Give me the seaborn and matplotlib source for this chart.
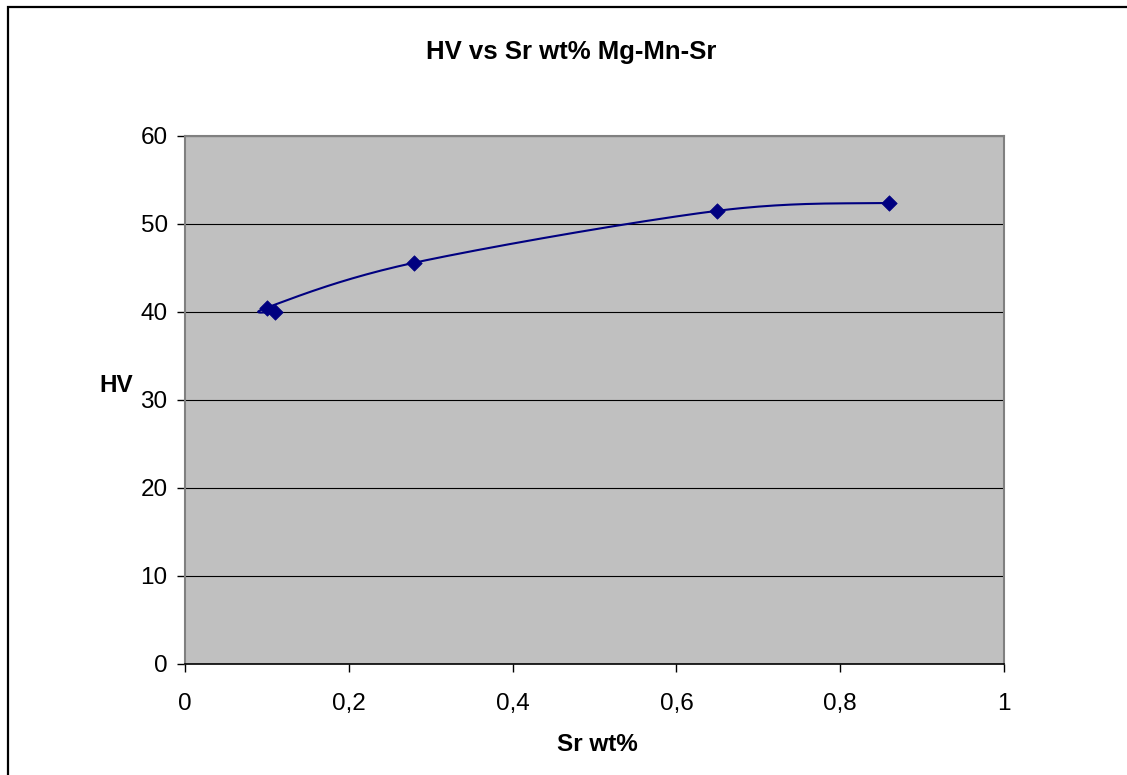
import numpy as np
import matplotlib
matplotlib.use("Agg")
import matplotlib.pyplot as plt
from matplotlib.patches import Rectangle
import seaborn as sns

# ---- data (in worksheet order) ----
sr_wt = [0.11, 0.1, 0.28, 0.65, 0.86]
hv = [40.0, 40.5, 45.6, 51.5, 52.4]
x_ticks = [0, 0.2, 0.4, 0.6, 0.8, 1.0]
x_tick_labels = ["0", "0,2", "0,4", "0,6", "0,8", "1"]
y_ticks = [0, 10, 20, 30, 40, 50, 60]
title = "HV vs Sr wt% Mg-Mn-Sr"
x_label = "Sr wt%"
y_label = "HV"

sns.set_style("white")
plt.rcParams["font.family"] = ["Liberation Sans", "DejaVu Sans"]
plt.rcParams["text.color"] = "black"
plt.rcParams["axes.labelcolor"] = "black"
plt.rcParams["xtick.color"] = "black"
plt.rcParams["ytick.color"] = "black"

LINE = "#000080"
BG = "#C0C0C0"


def excel_smooth(x, y, n=40):
    """Excel-like smoothed line (Catmull-Rom Bezier) through the data points."""
    P = np.column_stack([x, y]).astype(float)
    E = np.vstack([P[0], P, P[-1]])
    out = []
    t = np.linspace(0, 1, n)[:, None]
    for i in range(len(P) - 1):
        p0, p1, p2, p3 = E[i], E[i + 1], E[i + 2], E[i + 3]
        c1 = p1 + (p2 - p0) / 6
        c2 = p2 - (p3 - p1) / 6
        seg = (1 - t) ** 3 * p1 + 3 * (1 - t) ** 2 * t * c1 + 3 * (1 - t) * t ** 2 * c2 + t ** 3 * p2
        out.append(seg if i == 0 else seg[1:])
    return np.vstack(out)


W, H = 1127, 775
fig = plt.figure(figsize=(W / 100, H / 100), dpi=100)
fig.patch.set_facecolor("white")
ax = fig.add_axes([185 / W, 1 - 664 / H, 819 / W, 528 / H])
ax.set_facecolor(BG)

curve = excel_smooth(sr_wt, hv)
sns.lineplot(x=curve[:, 0], y=curve[:, 1], sort=False, estimator=None,
             color=LINE, linewidth=1.5, ax=ax, zorder=3)
sns.scatterplot(x=sr_wt, y=hv, marker="D", s=62, color=LINE,
                edgecolor=LINE, linewidth=0.5, ax=ax, zorder=4)

ax.set_xlim(0, 1)
ax.set_ylim(0, 60)
ax.set_xticks(x_ticks)
ax.set_xticklabels(x_tick_labels)
ax.set_yticks(y_ticks)
ax.yaxis.grid(True, color="black", linewidth=0.8)
ax.xaxis.grid(False)
ax.set_axisbelow(True)

for side in ["top", "right", "left"]:
    ax.spines[side].set_visible(True)
    ax.spines[side].set_color("#808080")
    ax.spines[side].set_linewidth(1.5)
ax.spines["bottom"].set_color("black")
ax.spines["bottom"].set_linewidth(1.2)

ax.tick_params(axis="both", which="major", direction="out", length=6,
               width=1, color="black", labelsize=17.5, labelcolor="black")
ax.tick_params(axis="x", pad=15, bottom=True)
ax.tick_params(axis="y", pad=6.5, left=True)

ax.set_xlabel(x_label, fontsize=17.5, fontweight="bold", va="baseline", color="black")
ax.xaxis.set_label_coords(0.503, (664 - 751) / 528)
ax.set_ylabel(y_label, fontsize=17.5, fontweight="bold", rotation=0,
              ha="center", va="baseline", color="black")
ax.yaxis.set_label_coords((116.5 - 185) / 819, (664 - 392) / 528)

fig.text(571 / W, 1 - 59 / H, title, ha="center", va="baseline",
         fontsize=18.5, fontweight="bold", color="black")

fig.patches.append(Rectangle((8 / W, -0.1), 1.2, 1 - 7 / H + 0.1,
                             transform=fig.transFigure, fill=False,
                             edgecolor="black", linewidth=1.6, clip_on=False))

fig.savefig("out.png", dpi=100)
